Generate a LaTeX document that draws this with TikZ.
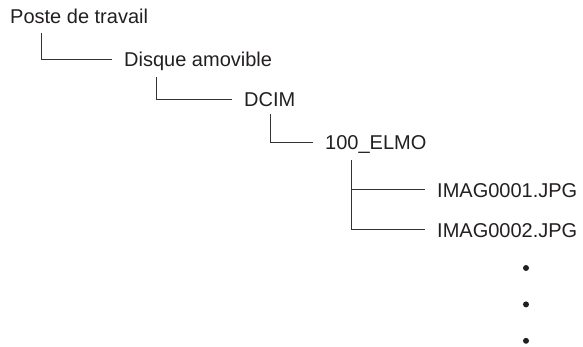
\documentclass[tikz,border=0pt]{standalone}
\usepackage{fontspec}
\setmainfont{Liberation Sans}
\usepackage{xcolor}
\usetikzlibrary{positioning}
\definecolor{ink}{HTML}{231F20}
\definecolor{wire}{HTML}{333333}

\begin{document}
\begin{tikzpicture}[x=1pt, y=-1pt,
      item/.style={inner sep=0pt, anchor=west, text=ink,
                   font=\fontsize{20}{24}\selectfont,
                   text height=14.3pt, text depth=0pt},
      link/.style={draw=wire, line width=1pt, shorten >=12pt},
      dot/.style={circle, fill=ink, inner sep=0pt, minimum size=6pt}]
    \useasboundingbox (0,0) rectangle (583,347);
    \node[item] (poste) at (10,16) {Poste de travail};
    \node[item] (disque) at (124,59.5) {Disque amovible};
    \node[item] (dcim) at (244,99.5) {DCIM};
    \node[item] (elmo) at (325,142.5) {100\_ELMO};
    \node[item] (img1) at (437,190) {IMAG0001.JPG};
    \node[item] (img2) at (437,230) {IMAG0002.JPG};
    \coordinate (fork) at ([xshift=26pt, yshift=-10pt]elmo.south west);
    \draw[link] ([xshift=31pt, yshift=-10pt]poste.south west) |- (disque.west);
    \draw[link] ([xshift=32pt, yshift=-10pt]disque.south west) |- (dcim.west);
    \draw[link] ([xshift=26pt, yshift=-7pt]dcim.south west) |- (elmo.west);
    \draw[link] (fork) |- (img2.west);
    \draw[link] (fork |- img1.west) -- (img1.west);
    % continuation dots
    \node[dot] (more1) at (526,268) {};
    \node[dot, below=30pt of more1] (more2) {};
    \node[dot, below=30pt of more2] (more3) {};
  \end{tikzpicture}
\end{document}
